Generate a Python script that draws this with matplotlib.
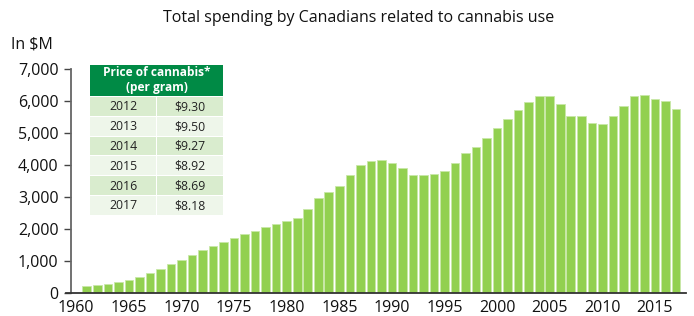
import numpy as np
import matplotlib.pyplot as plt
from matplotlib.patches import Rectangle

plt.rcParams['font.family'] = ['Open Sans', 'DejaVu Sans']

years = np.arange(1961, 2018)
spending = [207, 238, 280, 333, 405, 510, 614, 750, 895, 1040,
            1197, 1343, 1478, 1603, 1728, 1843, 1947, 2051, 2145, 2249,
            2353, 2624, 2978, 3155, 3353, 3686, 4010, 4116, 4168, 4074,
            3907, 3699, 3689, 3710, 3824, 4064, 4366, 4564, 4856, 5158,
            5450, 5731, 5981, 6158, 6158, 5898, 5543, 5533, 5314, 5273,
            5523, 5846, 6158, 6190, 6064, 6012, 5752]

price_years = ['2012', '2013', '2014', '2015', '2016', '2017']
prices = ['$9.30', '$9.50', '$9.27', '$8.92', '$8.69', '$8.18']

W, H = 694, 316
fig = plt.figure(figsize=(W / 100, H / 100), dpi=100)
ax = fig.add_axes([71 / W, (H - 293) / H, (686 - 71) / W, (293 - 69) / H])

ax.bar(years, spending, width=0.82, color='#92d050', edgecolor='#c8e8a8', linewidth=0.6)

ax.set_xlim(1959.5, 2017.95)
ax.set_ylim(0, 7000)
ax.set_xticks(range(1960, 2016, 5))
ax.set_yticks(range(0, 7001, 1000))
ax.set_yticklabels([f'{v:,}' for v in range(0, 7001, 1000)])
ax.tick_params(axis='x', length=0, labelsize=11.5, pad=5, colors='#111111')
ax.tick_params(axis='y', length=5, width=1, direction='out', labelsize=11.5, pad=4,
               color='#444444', labelcolor='#111111')
for s in ['top', 'right']:
    ax.spines[s].set_visible(False)
ax.spines['left'].set_color('#666666')
ax.spines['left'].set_linewidth(1.3)
ax.spines['bottom'].set_color('#333333')
ax.spines['bottom'].set_linewidth(1.3)
ax.spines['bottom'].set_bounds(1959.0, 2017.95)
ax.spines['bottom'].set_clip_on(False)

fig.text(359 / W, 1 - 18 / H, 'Total spending by Canadians related to cannabis use',
         ha='center', va='center', fontsize=11.5, color='#111111')
fig.text(11 / W, 1 - 44 / H, 'In $M', ha='left', va='center', fontsize=11.5, color='#111111')

# price table
tx0, tx1, tmid = 90, 223, 156
hy0, hy1 = 65, 96
row_h = 19.8
fig.patches.append(Rectangle((tx0 / W, 1 - hy1 / H), (tx1 - tx0) / W, (hy1 - hy0) / H,
                             transform=fig.transFigure, facecolor='#008a45', edgecolor='none'))
fig.text((tx0 + tx1) / 2 / W, 1 - (hy0 + hy1) / 2 / H, 'Price of cannabis*\n(per gram)',
         ha='center', va='center', fontsize=8.6, fontweight='bold', color='white', linespacing=1.2)
for i, (yr, pr) in enumerate(zip(price_years, prices)):
    top = hy1 + 1 + i * row_h
    col = '#d9ecce' if i % 2 == 0 else '#eef6ea'
    for x0, x1, txt in [(tx0, tmid, yr), (tmid + 1, tx1, pr)]:
        fig.patches.append(Rectangle((x0 / W, 1 - (top + row_h - 1) / H), (x1 - x0) / W,
                                     (row_h - 1) / H, transform=fig.transFigure,
                                     facecolor=col, edgecolor='none'))
        fig.text((x0 + x1) / 2 / W, 1 - (top + row_h / 2) / H, txt, ha='center', va='center',
                 fontsize=8.8, color='#222222')

fig.savefig('out.png', dpi=100)
